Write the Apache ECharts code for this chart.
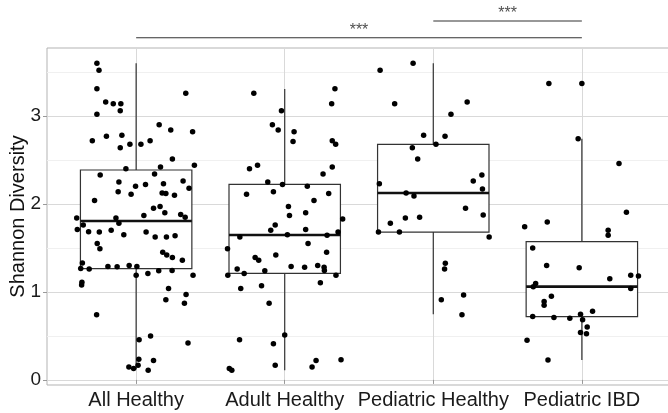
<!DOCTYPE html>
<html><head><meta charset="utf-8">
<script src="https://cdn.jsdelivr.net/npm/echarts@6/dist/echarts.min.js"></script>
<style>html,body{margin:0;padding:0;background:#fff}#c{width:668px;height:413px}</style>
</head><body><div id="c"></div>
<script>
const categories = ['All Healthy', 'Adult Healthy', 'Pediatric Healthy', 'Pediatric IBD'];
// [min, Q1, median, Q3, max]
const boxStats = [
  [0.12, 1.265, 1.807, 2.386, 3.60],
  [0.11, 1.212, 1.648, 2.223, 3.307],
  [0.746, 1.68, 2.125, 2.678, 3.60],
  [0.227, 0.72, 1.06, 1.572, 2.74]
];
// [jitter offset within category, Shannon diversity]
const allHealthyPts = [[-0.264,3.60],[-0.25,3.52],[-0.264,3.31],[0.334,3.26],[-0.205,3.16],[-0.154,3.14],[-0.103,3.14],[-0.107,3.06],[-0.264,3.02],[0.155,2.90],[0.233,2.84],[0.38,2.82],[-0.295,2.72],[-0.2,2.77],[-0.096,2.78],[-0.107,2.64],[-0.042,2.68],[0.032,2.68],[0.094,2.72],[0.244,2.51],[0.392,2.44],[-0.069,2.40],[0.164,2.42],[-0.242,2.33],[0.124,2.34],[-0.116,2.25],[-0.004,2.20],[0.063,2.22],[0.184,2.23],[0.316,2.26],[0.356,2.18],[-0.121,2.14],[-0.034,2.11],[0.175,2.125],[0.2,2.12],[0.258,2.10],[-0.28,2.04],[0.117,1.95],[0.161,1.97],[0.193,1.90],[0.052,1.87],[0.30,1.88],[0.33,1.85],[-0.4,1.84],[-0.136,1.84],[-0.116,1.78],[-0.356,1.76],[-0.396,1.71],[-0.32,1.685],[-0.248,1.68],[-0.168,1.70],[-0.083,1.65],[0.067,1.68],[0.128,1.625],[0.204,1.625],[0.262,1.64],[-0.262,1.55],[-0.244,1.49],[0.179,1.45],[0.206,1.42],[0.244,1.39],[0.311,1.36],[-0.362,1.33],[-0.373,1.265],[-0.316,1.26],[-0.19,1.29],[-0.128,1.285],[-0.047,1.30],[0.005,1.29],[0,1.19],[0.079,1.21],[0.152,1.24],[0.242,1.245],[0.383,1.19],[-0.365,1.11],[-0.367,1.08],[0.218,1.04],[0.20,0.91],[0.336,0.97],[0.325,0.87],[-0.266,0.74],[0.02,0.455],[0.097,0.50],[0.349,0.42],[0.018,0.235],[0.117,0.22],[-0.049,0.148],[-0.017,0.13],[0.013,0.167],[0.081,0.11]];
const adultHealthyPts = [[-0.208,3.26],[0.338,3.31],[0.316,3.14],[-0.022,3.06],[-0.083,2.90],[-0.044,2.84],[0.063,2.82],[0.056,2.71],[0.32,2.72],[0.343,2.68],[-0.237,2.40],[-0.183,2.44],[0.32,2.42],[0.258,2.34],[-0.114,2.25],[-0.015,2.22],[0.152,2.20],[-0.257,2.11],[-0.076,2.14],[0.296,2.12],[0.197,2.04],[0.025,1.97],[0.141,1.90],[0.032,1.87],[0.39,1.83],[-0.064,1.76],[-0.094,1.70],[0.018,1.65],[0.141,1.71],[0.285,1.645],[0.359,1.68],[-0.302,1.625],[-0.385,1.49],[0.157,1.55],[0.282,1.45],[-0.199,1.39],[-0.175,1.36],[-0.06,1.42],[-0.32,1.26],[-0.273,1.21],[-0.383,1.19],[-0.134,1.24],[0.043,1.29],[0.134,1.28],[0.222,1.30],[0.265,1.28],[0.267,1.245],[0.345,1.19],[-0.296,1.04],[-0.156,1.07],[0.24,1.105],[-0.105,0.87],[-0.304,0.455],[-0.076,0.41],[0,0.51],[-0.373,0.13],[-0.356,0.11],[-0.064,0.167],[0.184,0.148],[0.211,0.22],[0.379,0.23]];
const pediatricHealthyPts = [[-0.358,3.52],[-0.136,3.60],[-0.26,3.14],[0.228,3.16],[0.119,3.02],[-0.065,2.78],[0.079,2.77],[0.018,2.68],[-0.141,2.64],[-0.105,2.51],[0.327,2.33],[0.269,2.26],[-0.363,2.23],[0.331,2.17],[-0.183,2.125],[-0.13,2.09],[0.217,1.95],[0.336,1.875],[-0.188,1.84],[-0.092,1.85],[-0.289,1.78],[-0.369,1.68],[-0.228,1.68],[0.376,1.625],[0.081,1.325],[0.076,1.26],[0.204,0.966],[0.054,0.91],[0.193,0.74]];
const pediatricIBDPts = [[-0.222,3.37],[0,3.37],[-0.025,2.74],[0.25,2.46],[0.30,1.905],[-0.385,1.74],[-0.233,1.795],[0.177,1.70],[0.177,1.645],[-0.331,1.50],[-0.237,1.30],[-0.018,1.275],[0.188,1.15],[0.329,1.19],[0.381,1.18],[-0.311,1.095],[-0.327,1.06],[0.329,1.04],[-0.205,0.95],[-0.254,0.89],[-0.254,0.85],[0.072,0.78],[-0.331,0.72],[-0.188,0.71],[-0.081,0.70],[-0.009,0.745],[0.005,0.685],[0.036,0.60],[-0.009,0.54],[0.031,0.525],[-0.369,0.45],[-0.228,0.227]];
const yTicks = [0, 1, 2, 3];
const yMinorTicks = [0.5, 1.5, 2.5, 3.5];
const xTicks = [0, 1, 2, 3];
// significance bars: from group, to group, y position (data units), label
const sigFrom = [0, 2];
const sigTo = [3, 3];
const sigY = [3.89, 4.08];
const sigLabels = ['***', '***'];

const groups = [allHealthyPts, adultHealthyPts, pediatricHealthyPts, pediatricIBDPts];
const pointData = [];
groups.forEach((g, i) => g.forEach(p => pointData.push([i + p[0], p[1]])));
const boxData = boxStats.map((s, i) => [i].concat(s));

const X_MIN = -0.6, X_MAX = 3.6, Y_MIN = -0.058, Y_MAX = 3.773, Y_TOP = 4.318;
const HALF_BOX = 0.375;
const FONT = 'Liberation Sans, Arial, Helvetica, sans-serif';
const MAJOR = '#d9d9d9', MINOR = '#f0f0f0', BORDER = '#b3b3b3';

const sigSeries = [];
sigFrom.forEach((f, k) => {
  sigSeries.push({
    type: 'line', xAxisIndex: 1, yAxisIndex: 2, symbol: 'none', silent: true,
    data: [[f, sigY[k]], [sigTo[k], sigY[k]]],
    lineStyle: { color: '#333', width: 1.1 }
  });
  sigSeries.push({
    type: 'scatter', xAxisIndex: 1, yAxisIndex: 2, symbolSize: 0, silent: true,
    data: [[(f + sigTo[k]) / 2, sigY[k]]],
    label: { show: true, position: 'top', distance: -1, formatter: sigLabels[k], fontSize: 16, color: '#222', fontFamily: FONT }
  });
});

const chart = echarts.init(document.getElementById('c'), null, { renderer: 'canvas' });
chart.setOption({
  animation: false,
  backgroundColor: '#fff',
  grid: [
    { left: 47, right: -3, top: 48, bottom: 28, show: true, borderColor: BORDER, borderWidth: 1, backgroundColor: 'transparent', containLabel: false, outerBoundsMode: 'none' },
    { left: 47, right: -3, top: 0, height: 48, show: false, containLabel: false, outerBoundsMode: 'none' }
  ],
  xAxis: [
    {
      type: 'value', gridIndex: 0, min: X_MIN, max: X_MAX, position: 'bottom',
      axisLine: { show: false },
      axisTick: { show: true, length: 4, customValues: xTicks, lineStyle: { color: '#999' } },
      axisLabel: { customValues: xTicks, formatter: v => categories[Math.round(v)], fontSize: 20, color: '#1a1a1a', fontFamily: FONT, margin: 5 },
      splitLine: { show: true, lineStyle: { color: MAJOR, width: 1 } }
    },
    { type: 'value', gridIndex: 1, min: X_MIN, max: X_MAX, show: false }
  ],
  yAxis: [
    {
      type: 'value', gridIndex: 0, min: Y_MIN, max: Y_MAX, position: 'left',
      axisLine: { show: false }, axisTick: { show: false, customValues: yMinorTicks },
      axisLabel: { show: false, customValues: yMinorTicks },
      splitLine: { show: true, lineStyle: { color: MINOR, width: 1 } }
    },
    {
      type: 'value', gridIndex: 0, min: Y_MIN, max: Y_MAX, position: 'left', offset: 0,
      axisLine: { show: false },
      axisTick: { show: true, length: 4, customValues: yTicks, lineStyle: { color: '#999' } },
      axisLabel: { customValues: yTicks, fontSize: 19, color: '#1a1a1a', fontFamily: FONT, margin: 6 },
      splitLine: { show: true, lineStyle: { color: MAJOR, width: 1 } },
      name: 'Shannon Diversity', nameLocation: 'middle', nameGap: 19, nameMoveOverlap: false,
      nameTextStyle: { fontSize: 20, color: '#111', fontFamily: FONT }
    },
    { type: 'value', gridIndex: 1, min: Y_MAX, max: Y_TOP, show: false }
  ],
  series: [
    {
      type: 'custom', xAxisIndex: 0, yAxisIndex: 1, silent: true,
      data: boxData,
      renderItem: function (params, api) {
        const i = api.value(0);
        const mn = api.value(1), q1 = api.value(2), md = api.value(3), q3 = api.value(4), mx = api.value(5);
        const top = api.coord([i, mx]), cq3 = api.coord([i, q3]), cq1 = api.coord([i, q1]), bot = api.coord([i, mn]);
        const tl = api.coord([i - HALF_BOX, q3]), br = api.coord([i + HALF_BOX, q1]);
        const ml = api.coord([i - HALF_BOX, md]), mr = api.coord([i + HALF_BOX, md]);
        const ls = { stroke: '#333', lineWidth: 1.2 };
        return { type: 'group', children: [
          { type: 'line', shape: { x1: top[0], y1: top[1], x2: cq3[0], y2: cq3[1] }, style: ls },
          { type: 'line', shape: { x1: cq1[0], y1: cq1[1], x2: bot[0], y2: bot[1] }, style: ls },
          { type: 'rect', shape: { x: tl[0], y: tl[1], width: br[0] - tl[0], height: br[1] - tl[1] }, style: { fill: '#fff', stroke: '#333', lineWidth: 1.2 } },
          { type: 'line', shape: { x1: ml[0], y1: ml[1], x2: mr[0], y2: mr[1] }, style: { stroke: '#111', lineWidth: 2.6 } }
        ] };
      }
    },
    {
      type: 'scatter', xAxisIndex: 0, yAxisIndex: 1, silent: true,
      data: pointData, symbolSize: 5.5, itemStyle: { color: '#000', opacity: 1 }
    }
  ].concat(sigSeries)
});
</script></body></html>
